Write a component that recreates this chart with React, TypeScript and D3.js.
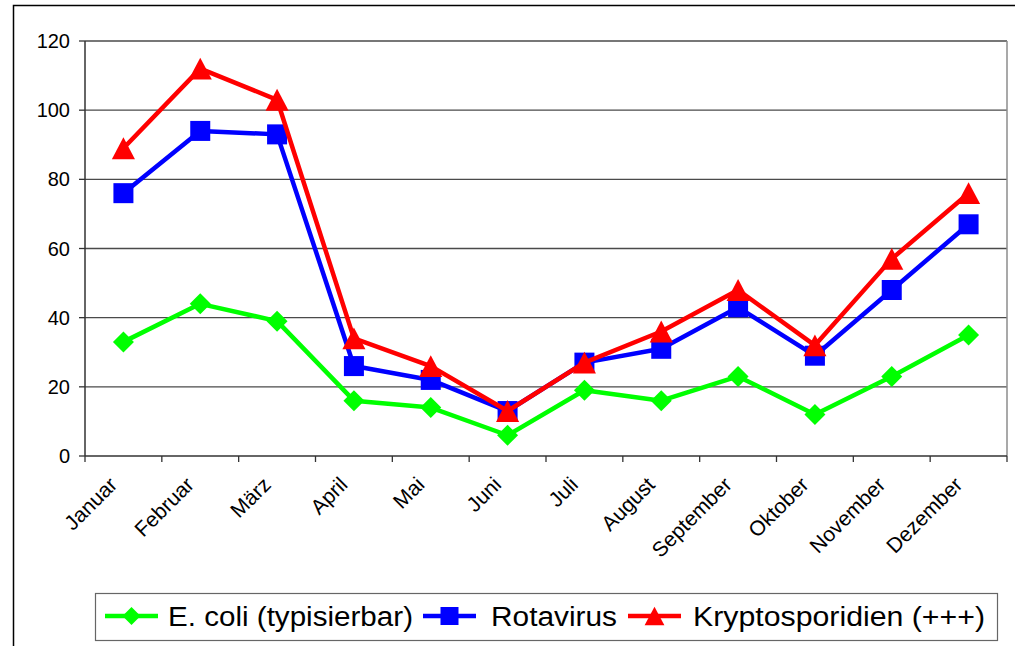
import React from "react";
import * as d3 from "d3";

const months = ["Januar", "Februar", "März", "April", "Mai", "Juni", "Juli", "August", "September", "Oktober", "November", "Dezember"];
const ecoli = [33, 44, 39, 16, 14, 6, 19, 16, 23, 12, 23, 35];
const rotavirus = [76, 94, 93, 26, 22, 13, 27, 31, 43, 29, 48, 67];
const krypto = [89, 112, 103, 34, 26, 13, 27, 36, 48, 32, 57, 76];
const yTicks = [0, 20, 40, 60, 80, 100, 120];
const seriesNames = ["E. coli (typisierbar)", "Rotavirus", "Kryptosporidien (+++)"];

const W = 1015, H = 646;
const plot = { left: 85, right: 1007, top: 41, bottom: 456 };
const FONT = "'Liberation Sans', Arial, sans-serif";

function marker(kind: string, cx: number, cy: number, s: number, color: string, key: any) {
  if (kind === "square") {
    return <rect key={key} x={cx - s / 2} y={cy - s / 2} width={s} height={s} fill={color} />;
  }
  if (kind === "diamond") {
    const r = s / 2;
    return <path key={key} d={`M${cx},${cy - r}L${cx + r},${cy}L${cx},${cy + r}L${cx - r},${cy}Z`} fill={color} />;
  }
  const hw = s * 0.55, hh = s * 0.52;
  return <path key={key} d={`M${cx},${cy - hh}L${cx + hw},${cy + hh}L${cx - hw},${cy + hh}Z`} fill={color} />;
}

export default function App() {
  const x = d3.scaleBand<string>().domain(months).range([plot.left, plot.right]).padding(0);
  const y = d3.scaleLinear().domain([0, 120]).range([plot.bottom, plot.top]);
  const cx = (m: string) => (x(m) as number) + x.bandwidth() / 2;
  const line = d3.line<number>().x((_, i) => cx(months[i])).y((v) => y(v));

  const series = [
    { name: seriesNames[0], data: ecoli, color: "#00FF00", kind: "diamond", size: 21 },
    { name: seriesNames[1], data: rotavirus, color: "#0000FF", kind: "square", size: 20 },
    { name: seriesNames[2], data: krypto, color: "#FF0000", kind: "triangle", size: 21 },
  ];

  const legendItems = [
    { lx: 105, tx: 168, tw: 245 },
    { lx: 423, tx: 491, tw: 126 },
    { lx: 628, tx: 693, tw: 292 },
  ];
  const legY = 616;

  const boundaries = months.map((m) => x(m) as number).concat([plot.right]);

  return (
    <svg width={W} height={H} style={{ position: "absolute", left: 0, top: 0 }} fontFamily={FONT}>
      <rect x={0} y={0} width={W} height={H} fill="#fff" />
      <rect x={13.5} y={5.5} width={1020} height={700} fill="none" stroke="#000" strokeWidth={1.5} />
      {yTicks.filter((t) => t > 0).map((t) => (
        <line key={t} x1={plot.left} x2={plot.right} y1={y(t)} y2={y(t)} stroke="#4a4a4a" strokeWidth={1.3} />
      ))}
      <line x1={plot.right} x2={plot.right} y1={plot.top} y2={plot.bottom} stroke="#8c8c8c" strokeWidth={1.5} />
      <line x1={plot.left} x2={plot.left} y1={plot.top} y2={plot.bottom} stroke="#333" strokeWidth={1.5} />
      <line x1={plot.left} x2={plot.right} y1={plot.bottom} y2={plot.bottom} stroke="#333" strokeWidth={1.5} />
      {yTicks.map((t) => (
        <g key={t}>
          <line x1={plot.left - 6} x2={plot.left} y1={y(t)} y2={y(t)} stroke="#333" strokeWidth={1.3} />
          <text x={70} y={y(t)} dy="0.35em" textAnchor="end" fontSize={20} fill="#000">{t}</text>
        </g>
      ))}
      {boundaries.map((b, i) => (
        <line key={i} x1={b} x2={b} y1={plot.bottom} y2={plot.bottom + 6} stroke="#333" strokeWidth={1.3} />
      ))}
      {months.map((m) => (
        <text key={m} transform={`translate(${cx(m) - 5},${486}) rotate(-45)`} textAnchor="end" fontSize={21} fill="#000">{m}</text>
      ))}
      {series.map((s) => (
        <g key={s.name}>
          <path d={line(s.data) as string} fill="none" stroke={s.color} strokeWidth={4.5} strokeLinejoin="round" />
          {s.data.map((v, i) => marker(s.kind, cx(months[i]), y(v), s.size, s.color, i))}
        </g>
      ))}
      <rect x={95.5} y={593.5} width={902} height={47} fill="#fff" stroke="#666" strokeWidth={1.2} />
      {series.map((s, i) => {
        const it = legendItems[i];
        return (
          <g key={s.name}>
            <line x1={it.lx} x2={it.lx + 53} y1={legY} y2={legY} stroke={s.color} strokeWidth={4.5} />
            {marker(s.kind, it.lx + 26.5, legY, 18, s.color, "m")}
            <text x={it.tx} y={legY} dy="0.36em" fontSize={27} textLength={it.tw} lengthAdjust="spacingAndGlyphs" fill="#000">{s.name}</text>
          </g>
        );
      })}
    </svg>
  );
}
